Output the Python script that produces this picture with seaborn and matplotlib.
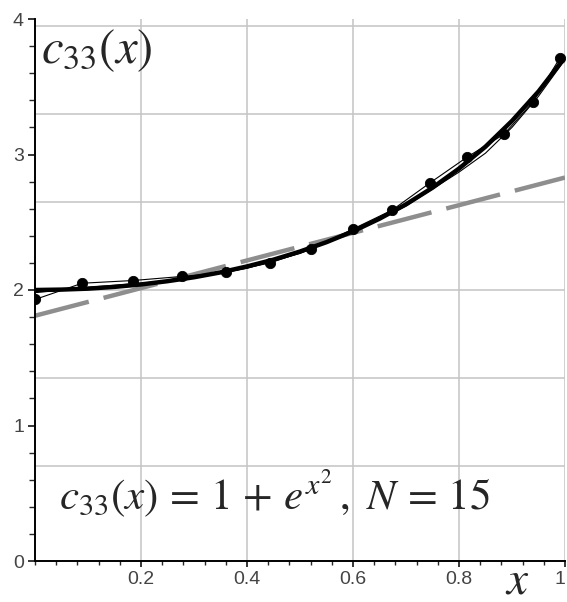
import numpy as np
import pandas as pd
import seaborn as sns
import matplotlib
matplotlib.use("Agg")
from matplotlib import pyplot as plt
from matplotlib.ticker import MultipleLocator

# exact curve c33(x)
x_exact = [0.0, 0.05, 0.1, 0.15, 0.2, 0.25, 0.3, 0.35, 0.4, 0.45, 0.5,
           0.55, 0.6, 0.65, 0.7, 0.75, 0.8, 0.85, 0.9, 0.95, 1.0]
y_exact = [2.00, 2.003, 2.01, 2.023, 2.041, 2.065, 2.094, 2.130, 2.174, 2.224, 2.284,
           2.353, 2.433, 2.526, 2.632, 2.755, 2.896, 3.058, 3.248, 3.465, 3.718]

# computed nodes (N = 15)
x_nodes = [0.0, 0.089, 0.185, 0.277, 0.36, 0.443, 0.52, 0.60, 0.674, 0.745, 0.815, 0.885, 0.94, 0.99]
y_nodes = [1.93, 2.05, 2.07, 2.10, 2.13, 2.20, 2.30, 2.45, 2.59, 2.79, 2.98, 3.15, 3.39, 3.71]

# smooth approximation (thin line)
x_approx = [0.0, 0.1, 0.2, 0.3, 0.4, 0.5, 0.6, 0.7, 0.8, 0.85, 0.9, 0.95, 1.0]
y_approx = [1.98, 2.02, 2.05, 2.09, 2.16, 2.27, 2.43, 2.62, 2.87, 3.01, 3.20, 3.43, 3.70]

# linear approximation (gray dashed)
x_lin = [0.0, 1.0]
y_lin = [1.81, 2.83]

# odd Maple horizontal grid
grid_y = [0.7, 1.35, 2.0, 2.65, 3.3, 3.95]

sns.set_style("ticks")
plt.rcParams["mathtext.fontset"] = "stix"
plt.rcParams["font.family"] = ["Liberation Sans", "DejaVu Sans"]
plt.rcParams["lines.scale_dashes"] = False

fig = plt.figure(figsize=(5.67, 6.02), dpi=100)
ax = fig.add_axes([35 / 567, 41 / 602, 530 / 567, 542 / 602])

ax.grid(axis="x", color="#c4c4c4", linewidth=1.1)
for gy in grid_y:
    ax.axhline(gy, color="#c4c4c4", linewidth=1.1, zorder=0.5)

lin = pd.DataFrame({"x": x_lin, "y": y_lin})
sns.lineplot(data=lin, x="x", y="y", ax=ax, color="#8e8e8e", linewidth=3.2,
             dashes=False, zorder=2)
ax.lines[-1].set_dashes((40, 11))

exact = pd.DataFrame({"x": x_exact, "y": y_exact})
sns.lineplot(data=exact, x="x", y="y", ax=ax, color="black", linewidth=3.2, zorder=3)

approx = pd.DataFrame({"x": x_approx, "y": y_approx})
sns.lineplot(data=approx, x="x", y="y", ax=ax, color="black", linewidth=0.8, zorder=4)

nodes = pd.DataFrame({"x": x_nodes, "y": y_nodes})
sns.lineplot(data=nodes, x="x", y="y", ax=ax, color="black", linewidth=0.8, zorder=4)
sns.scatterplot(data=nodes, x="x", y="y", ax=ax, color="black", s=55,
                edgecolor="black", zorder=5)

ax.set_xlim(0, 1)
ax.set_ylim(0, 4)
ax.set_xlabel("")
ax.set_ylabel("")
ax.xaxis.set_minor_locator(MultipleLocator(0.04))
ax.yaxis.set_minor_locator(MultipleLocator(0.2))
ax.set_xticks([0.2, 0.4, 0.6, 0.8, 1.0])
ax.set_xticklabels(["0.2", "0.4", "0.6", "0.8", "1"])
ax.set_yticks([0, 1, 2, 3, 4])
ax.set_yticklabels(["0", "1", "2", "3", "4"])
ax.tick_params(axis="both", which="major", labelsize=14, labelcolor="#444444",
               color="black", width=1.1)
ax.tick_params(axis="x", which="major", length=4, pad=3)
ax.tick_params(axis="x", which="minor", length=3, width=1.0)
ax.tick_params(axis="y", which="major", length=5, pad=3)
ax.tick_params(axis="y", which="minor", length=4, width=1.0)
ax.get_xticklabels()[-1].set_horizontalalignment("right")

sns.despine(ax=ax)
for s in ["left", "bottom"]:
    ax.spines[s].set_linewidth(1.4)
    ax.spines[s].set_color("black")

ax.text(0.012, 0.985, r"$c_{33}(x)$", transform=ax.transAxes, fontsize=35,
        ha="left", va="top")
ax.text(0.045, 0.095, r"$c_{33}(x)\,=\,1\,+\,e^{x^2}\,,\ N\,=\,15$", transform=ax.transAxes,
        fontsize=31, ha="left", va="baseline")
fig.text(517 / 567, 9 / 602, r"$x$", fontsize=34, ha="center", va="baseline")

fig.savefig("out.png", dpi=100)
